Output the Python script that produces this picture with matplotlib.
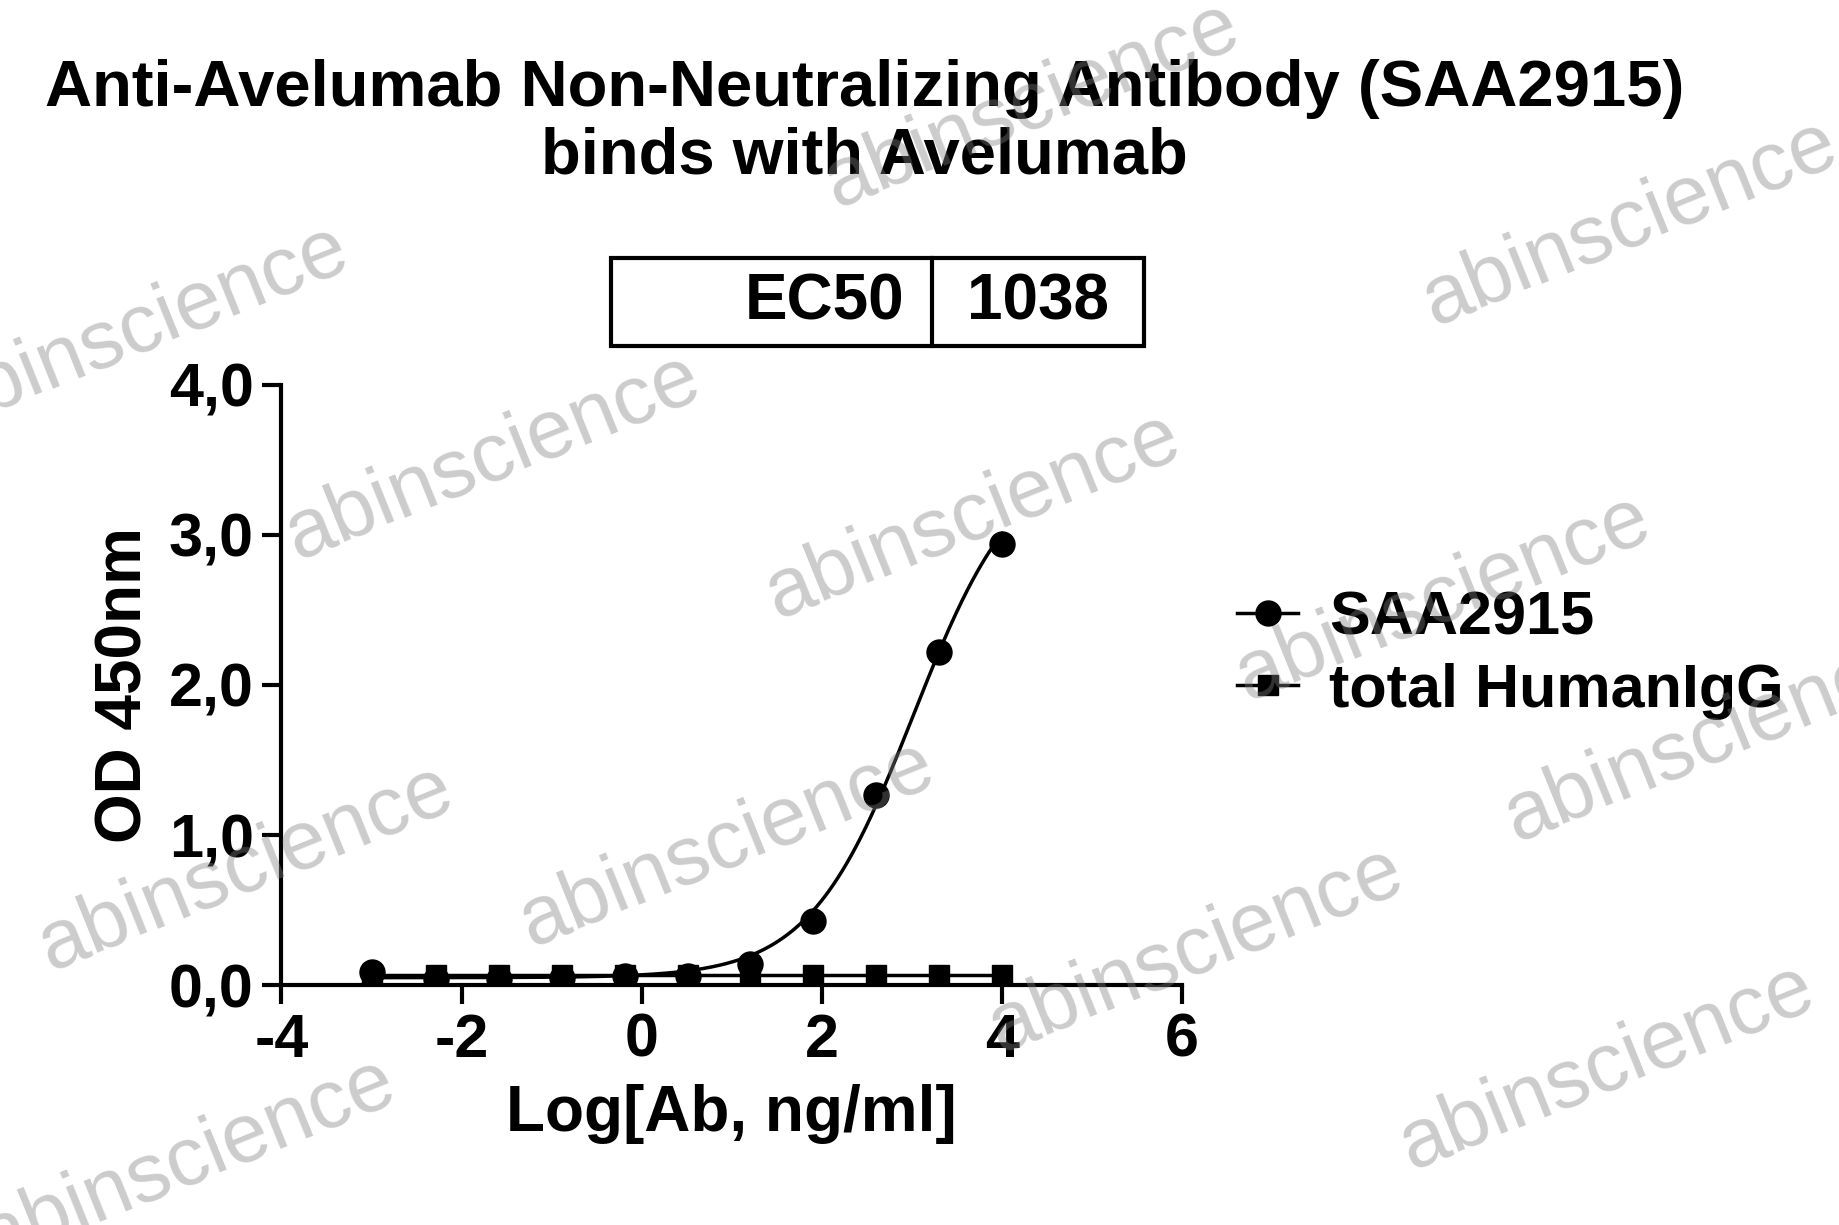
import numpy as np
import matplotlib
matplotlib.use("Agg")
import matplotlib.pyplot as plt
from matplotlib.lines import Line2D

x_saa = [-2.99, -2.29, -1.59, -0.89, -0.19, 0.51, 1.20, 1.90, 2.60, 3.30, 4.00]
y_saa = [0.09, 0.04, 0.04, 0.05, 0.06, 0.06, 0.14, 0.43, 1.27, 2.22, 2.94]
x_igg = [-2.99, -2.29, -1.59, -0.89, -0.19, 0.51, 1.20, 1.90, 2.60, 3.30, 4.00]
y_igg = [0.07, 0.07, 0.07, 0.07, 0.07, 0.07, 0.07, 0.07, 0.07, 0.07, 0.07]
bottom, top, logec50, hill = 0.05, 3.55, np.log10(1038), 0.75

plt.rcParams['font.family'] = ['Arial', 'Liberation Sans', 'DejaVu Sans']
plt.rcParams['font.weight'] = 'bold'
fig = plt.figure(figsize=(18.39, 12.25), dpi=100)
s = 1839/1568
ax = fig.add_axes([240*s/1839, 1-840*s/1225, 768*s/1839, 512*s/1225])

xc = np.linspace(min(x_saa), max(x_saa), 300)
yc = bottom + (top-bottom)/(1+10**((logec50-xc)*hill))
ax.plot(xc, yc, color='black', lw=2.5)
ax.plot(x_saa, y_saa, 'o', color='black', ms=18)
ax.plot(x_igg, y_igg, 's-', color='black', ms=15, lw=2.5)

ax.set_xlim(-4, 6); ax.set_ylim(0, 4)
ax.set_xticks([-4, -2, 0, 2, 4, 6])
ax.set_xticklabels(['-4', '-2', '0', '2', '4', '6'])
ax.set_yticks([0, 1, 2, 3, 4])
ax.set_yticklabels(['0,0', '1,0', '2,0', '3,0', '4,0'])
for sp in ['top', 'right']:
    ax.spines[sp].set_visible(False)
for sp in ['left', 'bottom']:
    ax.spines[sp].set_linewidth(3)
ax.tick_params(width=3, length=14, labelsize=44, pad=6)
ax.set_xlabel('Log[Ab, ng/ml]', fontsize=46, fontweight='bold', labelpad=10)
ax.set_ylabel('OD 450nm', fontsize=46, fontweight='bold', labelpad=10)

fig.text(0.47, 0.90, 'Anti-Avelumab Non-Neutralizing Antibody (SAA2915)\nbinds with Avelumab',
         ha='center', va='center', fontsize=47, fontweight='bold', linespacing=1.15)

tx0, tx1, tm = 521*s/1839, 975*s/1839, 795*s/1839
ty0, ty1 = 1-295*s/1225, 1-220*s/1225
fig.patches.append(plt.Rectangle((tx0, ty0), tx1-tx0, ty1-ty0, transform=fig.transFigure,
                                 fill=False, lw=3, color='black'))
fig.lines.append(plt.Line2D([tm, tm], [ty0, ty1], transform=fig.transFigure, color='black', lw=3))
fig.text(tm-0.015, (ty0+ty1)/2, 'EC50', ha='right', va='center', fontsize=46, fontweight='bold')
fig.text((tm+tx1)/2, (ty0+ty1)/2, '1038', ha='center', va='center', fontsize=46, fontweight='bold')

h1 = Line2D([], [], color='black', marker='o', ms=18, lw=2.5)
h2 = Line2D([], [], color='black', marker='s', ms=15, lw=2.5)
ax.legend([h1, h2], ['SAA2915', 'total HumanIgG'], loc='center left', bbox_to_anchor=(1.0, 0.55),
          frameon=False, fontsize=44, handlelength=1.0, handletextpad=0.5, labelspacing=0.25)

wm = [(880, 90), (1390, 190), (120, 280), (420, 390), (830, 440), (1230, 510),
      (1460, 630), (210, 740), (620, 720), (1020, 810), (1370, 910), (160, 990)]
for (px, py) in wm:
    fig.text(px*s/1839, 1-py*s/1225, 'abinscience', fontsize=60, color='gray', alpha=0.4,
             rotation=22, ha='center', va='center', fontweight='normal')

fig.savefig('out.png', dpi=100)
